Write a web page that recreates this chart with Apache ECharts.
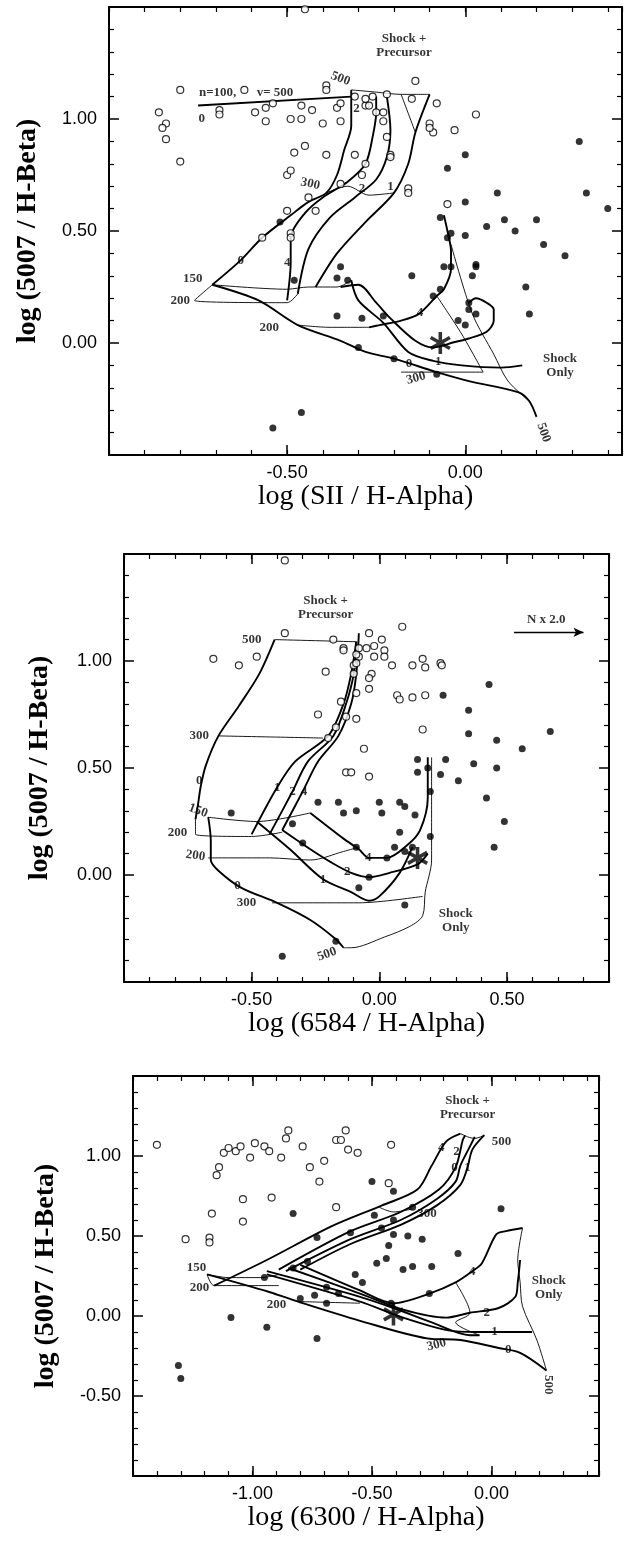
<!DOCTYPE html>
<html><head><meta charset="utf-8">
<script src="https://cdn.jsdelivr.net/npm/echarts/dist/echarts.min.js"></script>
<style>html,body{margin:0;padding:0;background:#fff}#c{width:637px;height:1542px}</style>
</head><body><div id="c"></div>
<script>
// ---------- Panel 1 : log(SII/Ha) vs log(5007/Hb) ----------
const p1Open = [[-0.45,1.49],[-0.80,1.13],[-0.62,1.13],[-0.86,1.03],[-0.84,0.98],[-0.85,0.96],[-0.84,0.91],[-0.80,0.81],[-0.69,1.04],[-0.69,1.02],[-0.59,1.03],[-0.56,1.05],[-0.54,1.07],[-0.56,0.99],[-0.49,1.00],[-0.46,1.00],[-0.46,1.06],[-0.43,1.04],[-0.40,0.98],[-0.39,1.15],[-0.39,1.13],[-0.36,1.05],[-0.35,1.07],[-0.35,0.99],[-0.31,1.10],[-0.28,1.06],[-0.48,0.85],[-0.45,0.88],[-0.39,0.84],[-0.31,0.84],[-0.28,0.80],[-0.50,0.75],[-0.49,0.77],[-0.44,0.65],[-0.35,0.71],[-0.29,0.75],[-0.50,0.59],[-0.42,0.59],[-0.57,0.47],[-0.49,0.49],[-0.49,0.47],[-0.14,1.17],[-0.15,1.09],[-0.22,1.11],[-0.26,1.10],[-0.28,1.09],[-0.27,1.06],[-0.25,1.03],[-0.23,1.03],[-0.23,0.99],[-0.22,0.92],[-0.21,0.84],[-0.21,0.83],[-0.08,1.07],[0.03,1.02],[-0.10,0.98],[-0.09,0.94],[-0.10,0.96],[-0.03,0.95],[-0.16,0.69],[-0.16,0.67],[-0.05,0.62]];
const p1Filled = [[-0.52,0.54],[0.32,0.90],[0.00,0.84],[-0.05,0.78],[0.09,0.67],[0.34,0.67],[0.40,0.60],[0.00,0.63],[0.11,0.55],[0.20,0.55],[0.06,0.52],[0.14,0.50],[0.00,0.48],[-0.07,0.56],[-0.05,0.47],[-0.04,0.49],[0.22,0.44],[0.28,0.39],[-0.06,0.34],[-0.04,0.34],[0.03,0.35],[0.03,0.34],[0.02,0.30],[-0.15,0.30],[0.17,0.25],[0.18,0.13],[-0.09,0.21],[-0.07,0.24],[0.01,0.18],[0.01,0.15],[0.03,0.13],[-0.02,0.10],[0.00,0.08],[-0.29,0.11],[-0.23,0.12],[-0.20,-0.07],[-0.08,-0.14],[-0.35,0.34],[-0.36,0.29],[-0.33,0.28],[-0.48,0.28],[-0.36,0.12],[-0.30,-0.02],[-0.46,-0.31],[-0.54,-0.38]];
const p1Star = [[-0.07,0.0]];
const p1N100 = [[-0.75,1.06],[-0.32,1.10]];
const p1B0up = [[-0.71,0.26],[-0.63,0.37],[-0.57,0.47],[-0.49,0.57],[-0.44,0.63],[-0.39,0.67],[-0.36,0.75],[-0.34,0.86],[-0.32,0.97],[-0.32,1.06],[-0.32,1.13]];
const p1B4up = [[-0.50,0.19],[-0.49,0.36],[-0.49,0.47],[-0.45,0.58],[-0.40,0.65],[-0.33,0.72],[-0.28,0.80],[-0.26,0.92],[-0.25,1.03],[-0.25,1.10]];
const p1B2up = [[-0.47,0.22],[-0.44,0.42],[-0.38,0.56],[-0.31,0.65],[-0.25,0.73],[-0.22,0.83],[-0.21,0.95],[-0.22,1.10]];
const p1B1up = [[-0.42,0.25],[-0.36,0.40],[-0.28,0.54],[-0.20,0.67],[-0.16,0.80],[-0.14,0.94],[-0.10,1.11]];
const p1V500 = [[-0.32,1.13],[-0.25,1.12],[-0.18,1.11],[-0.10,1.11]];
const p1V500b = [[-0.18,1.11],[-0.14,0.94]];
const p1V300 = [[-0.39,0.67],[-0.33,0.70],[-0.27,0.66],[-0.20,0.67]];
const p1V150 = [[-0.71,0.26],[-0.50,0.24],[-0.44,0.25],[-0.36,0.25],[-0.32,0.28]];
const p1V200 = [[-0.71,0.26],[-0.76,0.19],[-0.50,0.18],[-0.47,0.22]];
const p1B0low = [[-0.71,0.26],[-0.58,0.19],[-0.47,0.08],[-0.35,0.01],[-0.28,-0.04],[-0.20,-0.07],[-0.08,-0.13],[0.01,-0.17],[0.15,-0.22],[0.18,-0.26],[0.20,-0.33]];
const p1V200low = [[-0.47,0.08],[-0.38,0.07],[-0.27,0.07]];
const p1B4low = [[-0.27,0.07],[-0.24,0.08],[-0.18,0.10],[-0.13,0.13],[-0.08,0.21],[-0.06,0.24],[-0.04,0.33],[-0.04,0.41],[-0.05,0.50],[-0.06,0.57]];
const p1B2low = [[-0.35,0.25],[-0.30,0.26],[-0.25,0.18],[-0.21,0.11],[-0.14,0.01],[-0.09,-0.02],[-0.06,-0.01],[-0.04,0.00],[0.01,0.02],[0.06,0.05],[0.08,0.10],[0.08,0.15],[0.06,0.18],[0.03,0.20],[0.01,0.18]];
const p1B1low = [[-0.32,0.28],[-0.30,0.19],[-0.23,0.09],[-0.16,-0.04],[-0.09,-0.08],[-0.01,-0.10],[0.10,-0.11],[0.16,-0.10]];
const p1V500low = [[-0.04,0.44],[0.02,0.13],[0.08,-0.05],[0.12,-0.17],[0.18,-0.26]];
const p1V300low = [[-0.08,0.21],[-0.01,0.04],[0.05,-0.13],[-0.18,-0.13]];
const p1Notes = [[-0.695,1.116,'n=100,'],[-0.534,1.116,'v= 500'],[-0.74,1.00,'0'],[-0.35,1.18,'500',-20],[-0.305,1.045,'2'],[-0.435,0.71,'300',-12],[-0.29,0.69,'2'],[-0.21,0.70,'1'],[-0.63,0.366,'0'],[-0.50,0.357,'4'],[-0.765,0.286,'150'],[-0.80,0.19,'200'],[-0.55,0.067,'200'],[-0.127,0.134,'4'],[-0.158,-0.094,'0'],[-0.076,-0.085,'1'],[-0.138,-0.157,'300',15],[0.22,-0.40,'500',-70],[-0.172,1.328,'Shock +\nPrecursor'],[0.266,-0.10,'Shock\nOnly']];

// ---------- Panel 2 : log(6584/Ha) vs log(5007/Hb) ----------
const p2Open = [[-0.37,1.47],[-0.37,1.13],[-0.18,1.10],[-0.14,1.06],[-0.14,1.05],[-0.65,1.01],[-0.55,0.98],[-0.48,1.02],[-0.21,0.95],[-0.10,0.98],[-0.10,0.94],[-0.15,0.81],[-0.09,0.85],[-0.24,0.75],[-0.13,0.74],[-0.09,0.73],[-0.17,0.69],[-0.20,0.64],[-0.08,1.06],[-0.08,1.02],[0.09,1.16],[-0.04,1.13],[0.01,1.10],[-0.05,1.06],[-0.02,1.07],[-0.02,1.02],[-0.09,1.03],[-0.09,0.99],[0.02,1.05],[0.02,1.02],[0.05,0.98],[0.13,0.98],[0.17,1.01],[0.18,0.97],[0.24,0.99],[0.245,0.98],[-0.03,0.94],[-0.04,0.92],[-0.04,0.87],[0.07,0.84],[0.08,0.82],[0.13,0.83],[0.18,0.84],[0.17,0.68],[-0.06,0.59],[-0.13,0.48],[-0.11,0.48],[-0.04,0.46]];
const p2Filled = [[0.43,0.89],[0.25,0.84],[0.35,0.77],[0.35,0.66],[0.46,0.63],[0.56,0.59],[0.67,0.67],[0.15,0.54],[0.26,0.54],[0.37,0.52],[0.19,0.50],[0.15,0.48],[0.24,0.47],[0.46,0.50],[0.31,0.44],[0.20,0.39],[0.42,0.36],[0.49,0.25],[0.45,0.13],[-0.09,0.30],[0.00,0.34],[0.01,0.29],[0.08,0.34],[0.10,0.32],[0.14,0.28],[0.08,0.20],[0.20,0.18],[-0.09,0.13],[0.06,0.13],[0.03,0.08],[0.10,0.11],[0.13,0.13],[-0.04,-0.01],[-0.08,-0.06],[0.10,-0.14],[-0.58,0.29],[-0.24,0.34],[-0.16,0.34],[-0.14,0.29],[-0.34,0.24],[-0.30,0.15],[-0.17,-0.31],[-0.38,-0.38]];
const p2Star = [[0.15,0.08]];
const p2B0up = [[-0.41,1.10],[-0.47,0.94],[-0.55,0.79],[-0.63,0.65],[-0.68,0.51],[-0.70,0.41],[-0.71,0.33],[-0.72,0.26]];
const p2B1up = [[-0.50,0.19],[-0.40,0.41],[-0.33,0.53],[-0.20,0.65],[-0.14,0.80],[-0.11,0.94],[-0.09,1.09]];
const p2B2up = [[-0.43,0.19],[-0.34,0.39],[-0.28,0.53],[-0.18,0.65],[-0.13,0.80],[-0.10,0.94],[-0.09,1.09]];
const p2B4up = [[-0.38,0.21],[-0.30,0.39],[-0.24,0.53],[-0.16,0.65],[-0.11,0.80],[-0.09,0.94],[-0.08,1.13]];
const p2V500 = [[-0.41,1.10],[-0.09,1.09]];
const p2V300 = [[-0.63,0.65],[-0.22,0.64]];
const p2V150 = [[-0.67,0.27],[-0.48,0.25],[-0.27,0.29]];
const p2V200 = [[-0.72,0.26],[-0.72,0.19],[-0.50,0.18],[-0.38,0.20]];
const p2B0low = [[-0.67,0.27],[-0.66,0.16],[-0.66,0.07],[-0.63,0.02],[-0.54,-0.06],[-0.40,-0.13],[-0.27,-0.21],[-0.17,-0.30],[-0.14,-0.34]];
const p2V200low = [[-0.67,0.08],[-0.43,0.08],[-0.27,0.07],[-0.14,0.11],[-0.08,0.13]];
const p2V300low = [[-0.42,-0.13],[-0.08,-0.13],[0.17,-0.10]];
const p2B4low = [[-0.27,0.29],[-0.14,0.17],[-0.08,0.12],[-0.04,0.08],[0.03,0.08],[0.11,0.14],[0.16,0.21],[0.19,0.36],[0.19,0.44],[0.19,0.55]];
const p2B2low = [[-0.38,0.21],[-0.27,0.12],[-0.19,0.06],[-0.11,0.01],[-0.04,-0.01],[0.04,0.01],[0.15,0.05],[0.19,0.10]];
const p2B1low = [[-0.48,0.25],[-0.35,0.12],[-0.22,-0.02],[-0.11,-0.08],[-0.04,-0.12],[0.00,-0.10],[0.08,0.01],[0.13,0.13]];
const p2V500low = [[0.205,0.55],[0.205,0.07],[0.18,-0.08],[0.17,-0.19],[0.12,-0.24],[0.02,-0.29],[-0.11,-0.34],[-0.14,-0.34]];
const p2Arrow = [[0.528,1.134],[0.80,1.134]];
const p2Notes = [[-0.50,1.10,'500'],[-0.705,0.65,'300'],[-0.705,0.44,'0'],[-0.71,0.30,'150',-20],[-0.79,0.20,'200'],[-0.72,0.09,'200',-8],[-0.40,0.41,'1'],[-0.34,0.39,'2'],[-0.295,0.39,'4'],[-0.555,-0.05,'0'],[-0.52,-0.13,'300'],[-0.205,-0.37,'500',20],[-0.22,-0.02,'1'],[-0.125,0.014,'2'],[-0.043,0.079,'4'],[-0.21,1.25,'Shock +\nPrecursor'],[0.30,-0.213,'Shock\nOnly'],[0.654,1.194,'N x 2.0']];

// ---------- Panel 3 : log(6300/Ha) vs log(5007/Hb) ----------
const p3Open = [[-1.40,1.07],[-1.28,0.48],[-1.18,0.49],[-1.18,0.46],[-1.17,0.64],[-1.15,0.88],[-1.14,0.93],[-1.12,1.02],[-1.10,1.05],[-1.07,1.03],[-1.05,1.06],[-1.01,0.99],[-0.99,1.08],[-0.95,1.06],[-0.93,1.03],[-1.04,0.73],[-1.04,0.59],[-0.92,0.74],[-0.88,0.99],[-0.86,1.11],[-0.85,1.16],[-0.79,1.06],[-0.76,0.93],[-0.72,0.84],[-0.70,0.97],[-0.65,1.10],[-0.63,1.10],[-0.61,1.16],[-0.60,1.04],[-0.56,1.02],[-0.65,0.68],[-0.42,1.07],[-0.43,0.83]];
const p3Filled = [[-0.83,0.64],[-0.50,0.84],[-0.41,0.78],[0.04,0.67],[-0.33,0.68],[-0.49,0.63],[-0.41,0.60],[-0.46,0.55],[-0.41,0.51],[-0.35,0.50],[-0.29,0.48],[-0.43,0.44],[-0.14,0.39],[-0.48,0.33],[-0.44,0.36],[-0.37,0.29],[-0.33,0.31],[-0.25,0.31],[-0.59,0.52],[-0.73,0.49],[-0.77,0.34],[-0.83,0.30],[-0.57,0.26],[-0.54,0.21],[-0.26,0.14],[-0.42,0.08],[-0.95,0.24],[-0.80,0.11],[-0.74,0.13],[-0.69,0.18],[-0.64,0.14],[-0.69,0.08],[-1.09,-0.01],[-0.94,-0.07],[-0.73,-0.14],[-1.31,-0.31],[-1.30,-0.39]];
const p3Star = [[-0.41,0.01]];
const p3B0low = [[-1.19,0.26],[-0.93,0.15],[-0.79,0.08],[-0.55,-0.03],[-0.27,-0.14],[-0.13,-0.15],[0.03,-0.20],[0.12,-0.23],[0.23,-0.34]];
const p3B4up = [[-1.16,0.19],[-0.94,0.35],[-0.67,0.56],[-0.46,0.69],[-0.31,0.79],[-0.25,0.94],[-0.19,1.09],[-0.13,1.14]];
const p3B2up = [[-0.89,0.29],[-0.59,0.53],[-0.38,0.65],[-0.22,0.79],[-0.15,0.93],[-0.12,1.10],[-0.11,1.13]];
const p3B0up = [[-0.86,0.28],[-0.59,0.48],[-0.38,0.60],[-0.23,0.73],[-0.15,0.84],[-0.13,0.94],[-0.09,1.06],[-0.07,1.12]];
const p3B1up = [[-0.80,0.29],[-0.59,0.45],[-0.38,0.57],[-0.23,0.69],[-0.13,0.82],[-0.10,0.93],[-0.08,1.04],[-0.03,1.13]];
const p3V500 = [[-0.13,1.14],[-0.10,1.12],[-0.07,1.11],[-0.03,1.13]];
const p3V300 = [[-0.47,0.68],[-0.41,0.65],[-0.33,0.67]];
const p3V150 = [[-1.19,0.26],[-1.10,0.24],[-0.96,0.24],[-0.89,0.26]];
const p3V200 = [[-1.19,0.26],[-1.16,0.19],[-0.89,0.19]];
const p3V200low = [[-0.80,0.09],[-0.55,0.08]];
const p3B4low = [[-0.80,0.32],[-0.55,0.16],[-0.41,0.08],[-0.26,0.14],[-0.15,0.21],[-0.08,0.28],[-0.04,0.33],[0.02,0.51],[0.06,0.53],[0.13,0.55]];
const p3B2low = [[-0.85,0.30],[-0.55,0.14],[-0.37,0.04],[-0.19,-0.01],[-0.09,0.02],[0.03,0.05],[0.10,0.12],[0.11,0.21],[0.12,0.35]];
const p3B1low = [[-0.94,0.26],[-0.55,0.09],[-0.37,-0.01],[-0.18,-0.09],[-0.06,-0.10],[0.06,-0.10],[0.17,-0.10]];
const p3Band = [[-0.94,0.28],[-0.55,0.12],[-0.41,0.05],[-0.25,-0.04],[-0.09,-0.12],[-0.05,-0.12]];
const p3V500low = [[0.13,0.55],[0.11,0.35],[0.12,0.21],[0.13,0.06],[0.19,-0.15],[0.23,-0.34]];
const p3V300low = [[-0.15,0.21],[-0.09,0.02],[-0.15,-0.04],[-0.05,-0.12]];
const p3Notes = [[-1.234,0.30,'150'],[-1.222,0.18,'200'],[-0.90,0.07,'200'],[-0.27,0.64,'300'],[-0.21,1.05,'4'],[-0.146,1.025,'2'],[-0.155,0.925,'0'],[-0.10,0.93,'1'],[0.042,1.09,'500'],[-0.08,0.275,'4'],[-0.02,0.02,'2'],[0.013,-0.10,'1'],[0.07,-0.21,'0'],[-0.23,-0.18,'300',15],[0.24,-0.43,'500',-90],[-0.10,1.30,'Shock +\nPrecursor'],[0.24,0.18,'Shock\nOnly']];

// axis tick labels shown
const p1XTicks = [-0.5, 0], p1YTicks = [1, 0.5, 0];
const p2XTicks = [-0.5, 0, 0.5], p2YTicks = [1, 0.5, 0];
const p3XTicks = [-1, -0.5, 0], p3YTicks = [1, 0.5, 0, -0.5];

const SERIF = '"Liberation Serif","DejaVu Serif",serif';
const SANS = '"Liberation Sans",Arial,sans-serif';
const STAR = 'path://M-1.6,-10L1.6,-10L1.6,10L-1.6,10Z M7.86,-6.39L9.46,-3.61L-7.86,6.39L-9.46,3.61Z M-9.46,-3.61L-7.86,-6.39L9.46,3.61L7.86,6.39Z';

const panels = [
  {grid:{left:109,top:7,width:513,height:448}, x:[-1.0,0.44], y:[-0.5,1.5], xt:p1XTicks, yt:p1YTicks,
   xName:'log (SII / H-Alpha)', yName:'log (5007 / H-Beta)', xGap:21, yGap:67,
   open:p1Open, filled:p1Filled, star:p1Star,
   thick:[p1N100,p1B0up,p1B4up,p1B2up,p1B1up,p1B0low,p1B4low,p1B2low,p1B1low],
   thin:[p1V500,p1V500b,p1V300,p1V150,p1V200,p1V200low,p1V500low,p1V300low], notes:p1Notes},
  {grid:{left:124,top:554,width:485,height:428}, x:[-1.0,0.9], y:[-0.5,1.5], xt:p2XTicks, yt:p2YTicks,
   xName:'log (6584 / H-Alpha)', yName:'log (5007 / H-Beta)', xGap:23, yGap:70,
   open:p2Open, filled:p2Filled, star:p2Star, arrow:p2Arrow,
   thick:[p2B0up,p2B1up,p2B2up,p2B4up,p2B0low,p2B4low,p2B2low,p2B1low],
   thin:[p2V500,p2V300,p2V150,p2V200,p2V200low,p2V300low,p2V500low], notes:p2Notes},
  {grid:{left:133,top:1076,width:466,height:400}, x:[-1.5,0.45], y:[-1.0,1.5], xt:p3XTicks, yt:p3YTicks,
   xName:'log (6300 / H-Alpha)', yName:'log (5007 / H-Beta)', xGap:23, yGap:73,
   open:p3Open, filled:p3Filled, star:p3Star,
   thick:[p3B0low,p3B4up,p3B2up,p3B0up,p3B1up,p3B4low,p3B2low,p3B1low,p3Band],
   thin:[p3V500,p3V300,p3V150,p3V200,p3V200low,p3V500low,p3V300low], notes:p3Notes}
];

const grids=[], xAxes=[], yAxes=[], series=[];
const BLK = '#000';
function fmt(list){ return v => { const r = Math.round(v*100)/100; return list.some(l => Math.abs(l-r) < 1e-6) ? r.toFixed(2) : ''; }; }

panels.forEach((P, gi) => {
  grids.push(P.grid);
  const xi = gi*4, yi = gi*2;
  const base = {gridIndex:gi, type:'value', splitLine:{show:false}, axisLine:{onZero:false, lineStyle:{color:BLK, width:2}}};
  xAxes.push(Object.assign({}, base, {position:'bottom', min:P.x[0], max:P.x[1], interval:0.5,
    axisTick:{inside:true, length:10, lineStyle:{color:BLK, width:1.5}},
    axisLabel:{formatter:fmt(P.xt), color:BLK, fontFamily:SANS, fontSize:18, margin:9, showMinLabel:true, showMaxLabel:true},
    name:P.xName, nameLocation:'middle', nameGap:P.xGap, nameTextStyle:{fontFamily:SERIF, fontSize:28, color:BLK}}));
  xAxes.push(Object.assign({}, base, {position:'bottom', min:P.x[0], max:P.x[1], interval:0.1, axisLine:{show:false,onZero:false},
    axisTick:{inside:true, length:5, lineStyle:{color:BLK, width:1.2}}, axisLabel:{show:false}}));
  xAxes.push(Object.assign({}, base, {position:'top', min:P.x[0], max:P.x[1], interval:0.5,
    axisTick:{inside:true, length:10, lineStyle:{color:BLK, width:1.5}}, axisLabel:{show:false}}));
  xAxes.push(Object.assign({}, base, {position:'top', min:P.x[0], max:P.x[1], interval:0.1, axisLine:{show:false,onZero:false},
    axisTick:{inside:true, length:5, lineStyle:{color:BLK, width:1.2}}, axisLabel:{show:false}}));
  yAxes.push(Object.assign({}, base, {position:'left', min:P.y[0], max:P.y[1], interval:0.5,
    axisTick:{inside:true, length:10, lineStyle:{color:BLK, width:1.5}},
    minorTick:{show:true, splitNumber:5, length:5, lineStyle:{color:BLK, width:1.2}},
    axisLabel:{formatter:fmt(P.yt), color:BLK, fontFamily:SANS, fontSize:18, margin:12, showMinLabel:true, showMaxLabel:true},
    name:P.yName, nameLocation:'middle', nameGap:P.yGap, nameTextStyle:{fontFamily:SERIF, fontSize:28, fontWeight:'bold', color:BLK}}));
  yAxes.push(Object.assign({}, base, {position:'right', min:P.y[0], max:P.y[1], interval:0.5,
    axisTick:{inside:true, length:10, lineStyle:{color:BLK, width:1.5}},
    minorTick:{show:true, splitNumber:5, length:5, lineStyle:{color:BLK, width:1.2}}, axisLabel:{show:false}}));

  P.thick.forEach(d => series.push({type:'line', xAxisIndex:xi, yAxisIndex:yi, data:d, showSymbol:false, symbol:'none',
    smooth:0.3, lineStyle:{color:BLK, width:1.9}, z:3, silent:true}));
  P.thin.forEach(d => series.push({type:'line', xAxisIndex:xi, yAxisIndex:yi, data:d, showSymbol:false, symbol:'none',
    smooth:0.3, lineStyle:{color:BLK, width:0.9}, z:3, silent:true}));
  series.push({type:'scatter', xAxisIndex:xi, yAxisIndex:yi, data:P.open, symbol:'circle', symbolSize:7,
    itemStyle:{color:'#fff', borderColor:BLK, borderWidth:1.2}, z:5, silent:true});
  series.push({type:'scatter', xAxisIndex:xi, yAxisIndex:yi, data:P.filled, symbol:'circle', symbolSize:7,
    itemStyle:{color:BLK}, z:5, silent:true});
  series.push({type:'scatter', xAxisIndex:xi, yAxisIndex:yi, data:P.star, symbol:STAR, symbolSize:[21,22],
    itemStyle:{color:BLK}, z:6, silent:true});
  series.push({type:'scatter', xAxisIndex:xi, yAxisIndex:yi, symbolSize:1, itemStyle:{color:'rgba(0,0,0,0)'}, z:7, silent:true,
    data:P.notes.map(n => ({value:[n[0], n[1]], name:n[2], label:{rotate:n[3] || 0}})),
    label:{show:true, position:'inside', formatter:'{b}', color:BLK, fontFamily:SERIF, fontWeight:'bold', fontSize:13, lineHeight:14}});
  if (P.arrow) {
    series.push({type:'line', xAxisIndex:xi, yAxisIndex:yi, data:[P.arrow[0]], showSymbol:false, symbol:'none', lineStyle:{width:0}, silent:true,
      markLine:{silent:true, symbol:['none','arrow'], symbolSize:[7,10], label:{show:false}, lineStyle:{color:BLK, width:1.3, type:'solid'},
        data:[[{coord:P.arrow[0]},{coord:P.arrow[1]}]]}});
  }
});

const chart = echarts.init(document.getElementById('c'), null, {renderer:'canvas'});
chart.setOption({animation:false, backgroundColor:'#fff', grid:grids, xAxis:xAxes, yAxis:yAxes, series:series});
</script></body></html>
